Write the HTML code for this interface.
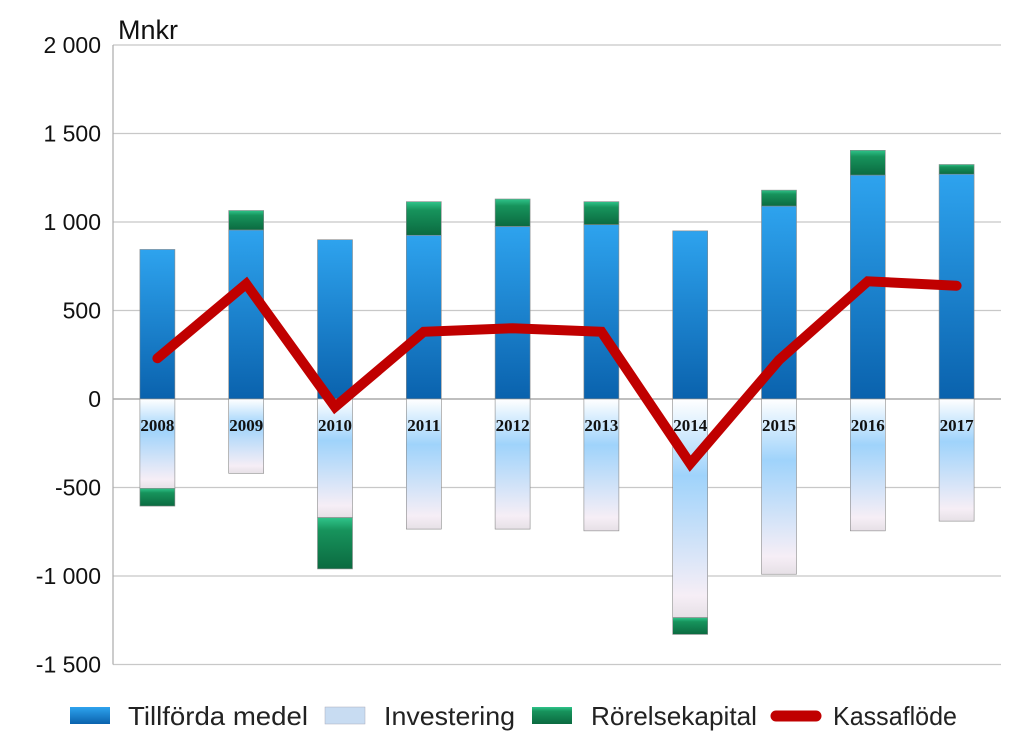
<!DOCTYPE html>
<html><head><meta charset="utf-8"><style>body{margin:0;background:#fff}svg{display:block}</style></head>
<body>
<svg id="chart" width="1019" height="753" xmlns="http://www.w3.org/2000/svg" font-family="Liberation Sans, sans-serif">
<defs>
<linearGradient id="gBlue" x1="0" y1="0" x2="0" y2="1"><stop offset="0" stop-color="#2ea3ee"/><stop offset="1" stop-color="#0a62ad"/></linearGradient>
<linearGradient id="gInv" x1="0" y1="0" x2="0" y2="1"><stop offset="0" stop-color="#ffffff"/><stop offset="0.35" stop-color="#9fd3fb"/><stop offset="0.9" stop-color="#f6eef6"/><stop offset="1" stop-color="#e6e0e6"/></linearGradient>
<linearGradient id="gGreen" x1="0" y1="0" x2="0" y2="1"><stop offset="0" stop-color="#2fc48a"/><stop offset="0.25" stop-color="#17935c"/><stop offset="1" stop-color="#0b6a40"/></linearGradient>
</defs>
<g id="grid"></g>
<g id="bars"></g>
<g id="labels"></g>
<g id="line"></g>
<g id="legend">
<rect x="70" y="707" width="40" height="17" fill="url(#gBlue)"/>
<text x="128" y="725" font-size="26" textLength="180" lengthAdjust="spacingAndGlyphs" fill="#222">Tillförda medel</text>
<rect x="325" y="707" width="40" height="17" fill="#c8dcf2" stroke="#aab" stroke-width="0.5"/>
<text x="384" y="725" font-size="26" textLength="131" lengthAdjust="spacingAndGlyphs" fill="#222">Investering</text>
<rect x="532" y="707" width="40" height="17" fill="url(#gGreen)"/>
<text x="591" y="725" font-size="26" textLength="166" lengthAdjust="spacingAndGlyphs" fill="#222">Rörelsekapital</text>
<line x1="776" y1="716" x2="816" y2="716" stroke="#c00000" stroke-width="11" stroke-linecap="round"/>
<text x="833" y="725" font-size="26" textLength="124" lengthAdjust="spacingAndGlyphs" fill="#222">Kassaflöde</text>
</g>
<text x="118" y="39" font-size="27" fill="#111">Mnkr</text>
</svg>
<script>
const years = ['2008','2009','2010','2011','2012','2013','2014','2015','2016','2017'];
const tillforda = [845, 955, 900, 925, 975, 985, 950, 1090, 1265, 1270];
const investering = [-505, -420, -670, -735, -735, -745, -1235, -990, -745, -690];
const rorelse = [-100, 110, -290, 190, 155, 130, -95, 90, 140, 55];
const kassaflode = [230, 650, -45, 380, 400, 380, -365, 220, 665, 640];
const yTicks = [2000, 1500, 1000, 500, 0, -500, -1000, -1500];
const yTickLabels = ['2 000','1 500','1 000','500','0','-500','-1 000','-1 500'];

const NS = 'http://www.w3.org/2000/svg';
const X0 = 113, X1 = 1001, Y0 = 399, PX = 88.5/500;
const step = (X1 - X0) / years.length, BW = 35;
const y = v => Y0 - v * PX;
const xc = i => X0 + step * (i + 0.5);
function mk(tag, attrs, parent) { const e = document.createElementNS(NS, tag); for (const k in attrs) e.setAttribute(k, attrs[k]); parent.appendChild(e); return e; }

const grid = document.getElementById('grid');
yTicks.forEach((t, i) => {
  const l = mk('line', {x1: X0, x2: X1, y1: y(t), y2: y(t), stroke: t === 0 ? '#999' : '#c8c8c8', 'stroke-width': 1.2}, grid);
  
  
  const tx = mk('text', {x: 101, y: y(t) + 8, 'text-anchor': 'end', 'font-size': 23, fill: '#111'}, grid);
  tx.textContent = yTickLabels[i];
  
  
});
const ax = mk('line', {x1: X0, x2: X0, y1: y(2000), y2: y(-1500), stroke: '#aaa', 'stroke-width': 1.2}, grid);



const bars = document.getElementById('bars'), labels = document.getElementById('labels');
function bar(i, a, b, fill, name) {
  const top = Math.min(y(a), y(b)), h = Math.abs(y(a) - y(b));
  const r = mk('rect', {x: xc(i) - BW/2, y: top, width: BW, height: h, fill: fill, stroke: '#8a8a8a', 'stroke-width': 0.6}, bars);
  
  
}
years.forEach((yr, i) => {
  bar(i, 0, tillforda[i], 'url(#gBlue)', 'bar-tillforda-' + yr);
  bar(i, 0, investering[i], 'url(#gInv)', 'bar-investering-' + yr);
  const base = rorelse[i] >= 0 ? tillforda[i] : investering[i];
  bar(i, base, base + rorelse[i], 'url(#gGreen)', 'bar-rorelsekapital-' + yr);
  const t = mk('text', {x: xc(i), y: Y0 + 32, 'text-anchor': 'middle', 'font-size': 17, 'font-weight': 'bold', 'font-family': 'Liberation Serif, serif', fill: '#111'}, labels);
  t.textContent = yr;
  
  
});
const pl = mk('polyline', {points: kassaflode.map((v, i) => xc(i) + ',' + y(v)).join(' '), fill: 'none', stroke: '#c00000', 'stroke-width': 10, 'stroke-linejoin': 'miter', 'stroke-linecap': 'round'}, document.getElementById('line'));


</script>
</body></html>
